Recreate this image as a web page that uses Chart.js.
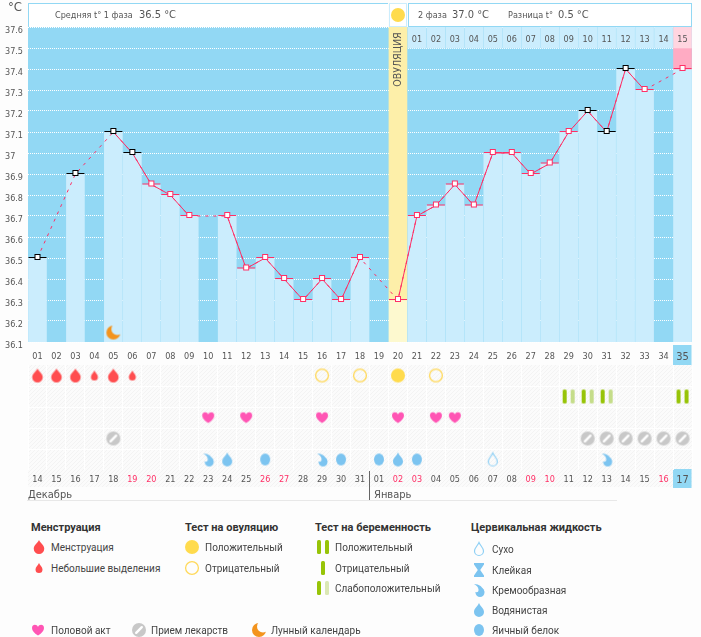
<!DOCTYPE html>
<html>
<head>
<meta charset="utf-8">
<script src="https://cdn.jsdelivr.net/npm/chart.js@4/dist/chart.umd.min.js"></script>
<style>
    html, body { margin: 0; padding: 0; background: #fdfdfd; }
    #page { position: relative; width: 701px; height: 637px; overflow: hidden; color: #555; font: 9px "DejaVu Sans Condensed", "DejaVu Sans", sans-serif; }
    #page canvas { position: absolute; }
    #page .t { position: absolute; white-space: nowrap; line-height: 14px; }
    .val { font-size: 11px; }
    .lg { font: 10px Roboto, sans-serif; color: #444; }
    .lh { font: bold 11px Roboto, sans-serif; color: #333; }
</style>
</head>
<body>
<div id="page">
    <canvas id="tempChart" width="701" height="366" style="left:0;top:0"></canvas>
    <canvas id="marksChart" width="701" height="125" style="left:0;top:365px"></canvas>
</div>
<script>
const dayLabels = ['01','02','03','04','05','06','07','08','09','10','11','12','13','14','15','16','17','18','19','20','21','22','23','24','25','26','27','28','29','30','31','32','33','34','35'];
const dateLabels = ['14','15','16','17','18','19','20','21','22','23','24','25','26','27','28','29','30','31','01','02','03','04','05','06','07','08','09','10','11','12','13','14','15','16','17'];
const redDates = [6, 7, 13, 14, 20, 21, 27, 28, 34];  // days of the cycle shown in red
const temps = [36.5, null, 36.9, null, 37.1, 37.0, 36.85, 36.8, 36.7, null, 36.7, 36.45, 36.5, 36.4, 36.3, 36.4, 36.3, 36.5, null, 36.3, 36.7, 36.75, 36.85, 36.75, 37.0, 37.0, 36.9, 36.95, 37.1, 37.2, 37.1, 37.4, 37.3, null, 37.4];
const blackDays = [1, 3, 5, 6, 30, 31, 32];
const phaseTwoLabels = ['01','02','03','04','05','06','07','08','09','10','11','12','13','14','15'];
const phaseTwoStart = 21;
const ovulationDay = 20;
const todayDay = 35;
const moonDay = 5;
const moonValue = 36.145;
const tempMin = 36.1;
const tempMax = 37.6;

const heavyDays = [1, 2, 3, 5];
const lightDays = [4, 6];
const ovulationPositive = [20];
const ovulationNegative = [16, 18, 22];
const pregnancyWeak = [29, 30, 31];
const pregnancyPositive = [35];
const sexDays = [10, 12, 16, 20, 22, 23];
const pillDays = [5, 30, 31, 32, 33, 34, 35];
const creamyDays = [10, 16, 31];
const wateryDays = [11, 20];
const eggWhiteDays = [13, 17, 19, 21];
const dryDays = [25];

const colBg = '#92d8f4';
const colBar = '#cbedfd';
const colPink = '#ff2f66';
const colText = '#555';
const fontName = '"DejaVu Sans Condensed", "DejaVu Sans", sans-serif';

// Значки рисуем на маленьких канвасах, они же идут в pointStyle
function iconCanvas(draw, w = 24, h = 24) {
    let c = document.createElement('canvas');
    c.width = w;
    c.height = h;
    let ctx = c.getContext('2d');
    ctx.translate(w / 2, h / 2);
    draw(ctx);
    return c;
}

function dropPath(ctx, w, h) {
    let r = w / 2;
    let cy = h / 2 - r;
    ctx.beginPath();
    ctx.moveTo(0, -h / 2);
    ctx.bezierCurveTo(r * 0.3, -h / 4, r, cy - r * 0.7, r, cy);
    ctx.arc(0, cy, r, 0, Math.PI);
    ctx.bezierCurveTo(-r, cy - r * 0.7, -r * 0.3, -h / 4, 0, -h / 2);
    ctx.closePath();
}

function drop(w, h, color) {
    return iconCanvas(ctx => {
        dropPath(ctx, w, h);
        ctx.fillStyle = color;
        ctx.fill();
    });
}

const icons = {
    heavy: drop(10.5, 14, '#ff4d4f'),
    light: drop(7, 10, '#ff4d4f'),
    watery: drop(10, 14, '#7cc4f0'),
    dry: iconCanvas(ctx => {
        dropPath(ctx, 9, 13);
        ctx.strokeStyle = '#8fd0f5';
        ctx.lineWidth = 1.2;
        ctx.stroke();
    }),
    eggWhite: iconCanvas(ctx => {
        ctx.beginPath();
        ctx.ellipse(0, 0, 5, 6, 0, 0, Math.PI * 2);
        ctx.fillStyle = '#7cc4f0';
        ctx.fill();
    }),
    creamy: iconCanvas(ctx => {
        ctx.fillStyle = '#7cc4f0';
        ctx.beginPath();
        ctx.arc(1, 2.5, 4.5, 0, Math.PI * 2);
        ctx.fill();
        ctx.beginPath();
        ctx.moveTo(-5, -6);
        ctx.quadraticCurveTo(3, -6, 5.4, 2);
        ctx.lineTo(0, 0);
        ctx.quadraticCurveTo(-1, -4, -5, -6);
        ctx.fill();
        ctx.globalCompositeOperation = 'destination-out';
        ctx.beginPath();
        ctx.arc(-2.6, 0, 2.2, 0, Math.PI * 2);
        ctx.fill();
    }),
    sticky: iconCanvas(ctx => {
        ctx.fillStyle = '#7cc4f0';
        ctx.beginPath();
        ctx.moveTo(-5, -7);
        ctx.lineTo(5, -7);
        ctx.lineTo(5, -5.5);
        ctx.lineTo(1.2, 0);
        ctx.lineTo(5, 5.5);
        ctx.lineTo(5, 7);
        ctx.lineTo(-5, 7);
        ctx.lineTo(-5, 5.5);
        ctx.lineTo(-1.2, 0);
        ctx.lineTo(-5, -5.5);
        ctx.closePath();
        ctx.fill();
    }),
    heart: iconCanvas(ctx => {
        ctx.fillStyle = '#ff55b4';
        ctx.beginPath();
        ctx.moveTo(0, 5.5);
        ctx.bezierCurveTo(-4, 3, -6, 0.5, -6, -2);
        ctx.bezierCurveTo(-6, -6.2, -1, -6.2, 0, -3);
        ctx.bezierCurveTo(1, -6.2, 6, -6.2, 6, -2);
        ctx.bezierCurveTo(6, 0.5, 4, 3, 0, 5.5);
        ctx.fill();
    }),
    pill: iconCanvas(ctx => {
        ctx.fillStyle = '#c8c8c8';
        ctx.beginPath();
        ctx.arc(0, 0, 7, 0, Math.PI * 2);
        ctx.fill();
        ctx.strokeStyle = '#fff';
        ctx.lineWidth = 2.4;
        ctx.lineCap = 'round';
        ctx.beginPath();
        ctx.moveTo(-2.8, 2.8);
        ctx.lineTo(2.8, -2.8);
        ctx.stroke();
    }),
    circlePos: iconCanvas(ctx => {
        ctx.fillStyle = '#ffdb4d';
        ctx.beginPath();
        ctx.arc(0, 0, 7, 0, Math.PI * 2);
        ctx.fill();
    }),
    circleNeg: iconCanvas(ctx => {
        ctx.strokeStyle = '#ffd95a';
        ctx.lineWidth = 1.3;
        ctx.beginPath();
        ctx.arc(0, 0, 6.4, 0, Math.PI * 2);
        ctx.stroke();
    }),
    moon: iconCanvas(ctx => {
        ctx.fillStyle = '#f3941d';
        ctx.beginPath();
        ctx.arc(0, 0, 7, 0, Math.PI * 2);
        ctx.fill();
        ctx.globalCompositeOperation = 'destination-out';
        ctx.beginPath();
        ctx.arc(4, -3.5, 6, 0, Math.PI * 2);
        ctx.fill();
    })
};

function stripes(colors) {
    return iconCanvas(ctx => {
        colors.forEach((color, i) => {
            ctx.fillStyle = color;
            let x = colors.length === 1 ? -2 : (i === 0 ? -6 : 2);
            ctx.beginPath();
            ctx.roundRect(x, -7, 4, 14, 1.5);
            ctx.fill();
        });
    });
}
icons.stripPos = stripes(['#97c408', '#97c408']);
icons.stripNeg = stripes(['#97c408']);
icons.stripWeak = stripes(['#97c408', '#c5dd8a']);
icons.stripWeakLegend = stripes(['#97c408', '#dbe8b4']);

function tempMarker(color) {
    return iconCanvas(ctx => {
        ctx.translate(-10, -5);
        ctx.fillStyle = color;
        ctx.fillRect(1, 4, 18, 1);
        ctx.fillStyle = '#fff';
        ctx.fillRect(8, 2, 5, 5);
        ctx.strokeStyle = color;
        ctx.lineWidth = 1;
        ctx.strokeRect(7.5, 1.5, 5, 5);
    }, 20, 10);
}
const markerBlack = tempMarker('#000');
const markerPink = tempMarker(colPink);

const barColors = temps.map((_, i) => i + 1 === ovulationDay ? '#fdf9cf' : colBar);
const ovulationBand = dayLabels.map((_, i) => i + 1 === ovulationDay ? [temps[i], tempMax] : null);
const headerBand = dayLabels.map((_, i) => i + 1 >= phaseTwoStart ? [37.5, tempMax] : null);
const headerColors = dayLabels.map((_, i) => i + 1 === todayDay ? '#ffd5e0' : colBar);
const todayBand = dayLabels.map((_, i) => i + 1 === todayDay ? [37.4, 37.5] : null);
const moonData = dayLabels.map((_, i) => i + 1 === moonDay ? moonValue : null);

const tempPlugin = {
    id: 'tempExtras',
    beforeDraw(chart) {
        let { ctx, scales: { x } } = chart;
        ctx.save();
        ctx.fillStyle = colBg;
        let cx = x.getPixelForValue(todayDay - 1);
        ctx.fillRect(cx - 9.5, 345, 18.5, 20);
        ctx.fillRect(chart.chartArea.left, chart.chartArea.top, chart.chartArea.width, chart.chartArea.height);
        ctx.restore();
    },
    afterDatasetsDraw(chart) {
        let { ctx, scales: { x, y } } = chart;
        ctx.save();
        ctx.fillStyle = colText;
        ctx.font = '9px ' + fontName;
        ctx.textAlign = 'center';
        ctx.textBaseline = 'middle';
        phaseTwoLabels.forEach((label, i) => {
            ctx.fillText(label, x.getPixelForValue(phaseTwoStart - 1 + i), y.getPixelForValue(37.545) + 1);
        });
        ctx.translate(x.getPixelForValue(ovulationDay - 1), y.getPixelForValue(37.445));
        ctx.rotate(-Math.PI / 2);
        ctx.font = '10.5px ' + fontName;
        ctx.fillText('ОВУЛЯЦИЯ', 0, 0);
        ctx.restore();
    }
};

new Chart(document.getElementById('tempChart'), {
    type: 'bar',
    plugins: [tempPlugin],
    data: {
        labels: dayLabels,
        datasets: [
            // solid line breaks on empty days, the dashed one below it bridges them
            { type: 'line', data: temps, order: 0, borderColor: colPink, borderWidth: 1, tension: 0,
              pointStyle: ctx => blackDays.includes(ctx.dataIndex + 1) ? markerBlack : markerPink, pointRadius: 5 },
            { type: 'line', data: temps, order: 1, spanGaps: true, borderColor: colPink, borderWidth: 1, borderDash: [3, 5], tension: 0, pointRadius: 0 },
            { type: 'line', data: moonData, order: 0, showLine: false, pointStyle: icons.moon, pointRadius: 5 },
            { data: temps, order: 3, backgroundColor: barColors, barThickness: 18 },
            { data: ovulationBand, order: 2, backgroundColor: '#fdefa9', barThickness: 18 },
            { data: headerBand, order: 2, backgroundColor: headerColors, barThickness: 18 },
            { data: todayBand, order: 2, backgroundColor: '#ffabc3', barThickness: 18 }
        ]
    },
    options: {
        responsive: false,
        animation: false,
        events: [],
        layout: { autoPadding: false, padding: { top: 27, left: 5, right: 9 } },
        plugins: { legend: { display: false }, tooltip: { enabled: false } },
        scales: {
            x: {
                stacked: true,
                afterFit: scale => { scale.height = 24; },
                grid: { display: false },
                border: { display: false },
                ticks: {
                    autoSkip: false, maxRotation: 0, padding: 1,
                    color: colText,
                    font: ctx => ctx.index === todayDay - 1 ? { size: 11, family: fontName } : { size: 9, family: fontName }
                }
            },
            y: {
                min: tempMin,
                max: tempMax,
                afterFit: scale => { scale.width = 23; },
                grid: { color: '#fff', drawTicks: false },
                border: { display: false, dash: [1, 1] },
                ticks: {
                    stepSize: 0.1, crossAlign: 'far', labelOffset: 4, padding: 0,
                    color: colText,
                    font: { size: 9, family: fontName },
                    callback: v => String(+v.toFixed(1))
                }
            }
        }
    }
});

function texture(ctx) {
    let c = document.createElement('canvas');
    c.width = c.height = 4;
    let p = c.getContext('2d');
    p.fillStyle = '#fbfbfb';
    p.fillRect(0, 0, 4, 4);
    p.fillStyle = '#f3f3f3';
    [[0, 3], [1, 2], [2, 1], [3, 0]].forEach(([x, y]) => p.fillRect(x, y, 1, 1));
    return ctx.createPattern(c, 'repeat');
}

const marksPlugin = {
    id: 'marksExtras',
    beforeDraw(chart) {
        let { ctx, chartArea, scales: { x } } = chart;
        ctx.save();
        ctx.fillStyle = texture(ctx);
        ctx.fillRect(chartArea.left, chartArea.top, chartArea.width, 122);
        ctx.fillStyle = colBg;
        ctx.fillRect(x.getPixelForValue(todayDay - 1) - 9.5, 104, 18.5, 19);
        ctx.restore();
    }
};

function marks(days, row, icon) {
    return { data: days.map(d => ({ x: dayLabels[d - 1], y: row })), showLine: false, pointStyle: icon, pointRadius: 5 };
}

const rowEdges = [1.5, 2.5, 3.5, 4.5];

new Chart(document.getElementById('marksChart'), {
    type: 'line',
    plugins: [marksPlugin],
    data: {
        labels: dayLabels,
        datasets: [
            marks(heavyDays, 1, icons.heavy),
            marks(lightDays, 1, icons.light),
            marks(ovulationPositive, 1, icons.circlePos),
            marks(ovulationNegative, 1, icons.circleNeg),
            marks(pregnancyWeak, 2, icons.stripWeak),
            marks(pregnancyPositive, 2, icons.stripPos),
            marks(sexDays, 3, icons.heart),
            marks(pillDays, 4, icons.pill),
            marks(creamyDays, 5, icons.creamy),
            marks(wateryDays, 5, icons.watery),
            marks(eggWhiteDays, 5, icons.eggWhite),
            marks(dryDays, 5, icons.dry)
        ]
    },
    options: {
        responsive: false,
        animation: false,
        events: [],
        layout: { autoPadding: false, padding: { left: 28, right: 9 } },
        plugins: { legend: { display: false }, tooltip: { enabled: false } },
        scales: {
            x: {
                offset: true,
                afterFit: scale => { scale.height = 20; },
                grid: { color: '#fff', offset: true, drawTicks: false },
                border: { display: false },
                ticks: {
                    autoSkip: false, maxRotation: 0, padding: 4,
                    callback: (v, i) => dateLabels[i],
                    color: ctx => redDates.includes(ctx.index + 1) ? colPink : colText,
                    font: ctx => ctx.index === todayDay - 1 ? { size: 11, family: fontName } : { size: 9, family: fontName }
                }
            },
            y: {
                min: 0.5,
                max: 5.5,
                reverse: true,
                afterFit: scale => { scale.width = 0; },
                afterBuildTicks: scale => { scale.ticks = rowEdges.map(v => ({ value: v })); },
                grid: { color: '#fff', drawTicks: false },
                border: { display: false },
                ticks: { display: false }
            }
        }
    }
});

// Подписи вокруг графика
const page = document.getElementById('page');

function addText(x, y, text, cls, style) {
    let el = document.createElement('div');
    el.className = 't ' + (cls || '');
    el.textContent = text;
    el.style.left = x + 'px';
    el.style.top = (y - 7) + 'px';
    if (style) el.style.cssText += style;
    page.appendChild(el);
}

function addIcon(x, y, icon) {
    let c = iconCanvas(ctx => ctx.drawImage(icon, -12, -12));
    c.style.left = (x - 12) + 'px';
    c.style.top = (y - 12) + 'px';
    page.appendChild(c);
}

function addBox(x, y, w, h, css) {
    let el = document.createElement('div');
    el.style.cssText = `position:absolute;left:${x}px;top:${y}px;width:${w}px;height:${h}px;${css}`;
    page.appendChild(el);
}

addBox(28, 3, 360, 24, 'background:#fff;border:solid #92d8f4;border-width:1px 0 0 1px;box-sizing:border-box');
addBox(389, 3, 18, 24, 'background:#fff;border:1px solid #cbedfd;box-sizing:border-box');
addBox(408, 3, 284, 24, 'background:#fff;border:1px solid #92d8f4;box-sizing:border-box');
addIcon(398, 15, icons.circlePos);
addText(8, 7, '°C', '', 'font-size:13px');
addText(55, 15, 'Средняя t° 1 фаза', '');
addText(139, 15, '36.5 °C', 'val');
addText(418, 15, '2 фаза', '');
addText(452, 15, '37.0 °C', 'val');
addText(508, 15, 'Разница t°', '');
addText(558, 15, '0.5 °C', 'val');

addText(28, 495, 'Декабрь', '', 'font-size:11px');
addText(374, 495, 'Январь', '', 'font-size:11px');
addBox(369, 471, 1, 29, 'background:#666');
addBox(27, 500, 590, 1, 'background:#e8e8e8');

const legendHeads = [[31, 'Менструация'], [185, 'Тест на овуляцию'], [315, 'Тест на беременность'], [471, 'Цервикальная жидкость']];
const legendItems = [
    [51, 547, 'Менструация', 38.5, icons.heavy],
    [51, 568, 'Небольшие выделения', 38.5, icons.light],
    [205, 547, 'Положительный', 192, icons.circlePos],
    [205, 568, 'Отрицательный', 192, icons.circleNeg],
    [335, 547, 'Положительный', 322.5, icons.stripPos],
    [335, 568, 'Отрицательный', 322.5, icons.stripNeg],
    [335, 588, 'Слабоположительный', 322.5, icons.stripWeakLegend],
    [492, 549, 'Сухо', 479, icons.dry],
    [492, 570, 'Клейкая', 479, icons.sticky],
    [492, 590, 'Кремообразная', 479, icons.creamy],
    [492, 610, 'Водянистая', 479, icons.watery],
    [492, 630, 'Яичный белок', 479, icons.eggWhite],
    [51, 630, 'Половой акт', 38, icons.heart],
    [151, 630, 'Прием лекарств', 139, icons.pill],
    [271, 630, 'Лунный календарь', 259, icons.moon]
];
legendHeads.forEach(([x, text]) => addText(x, 528, text, 'lh'));
legendItems.forEach(([x, y, text, ix, icon]) => {
    addText(x, y + 1, text, 'lg');
    addIcon(ix, y, icon);
});
</script>
</body>
</html>
